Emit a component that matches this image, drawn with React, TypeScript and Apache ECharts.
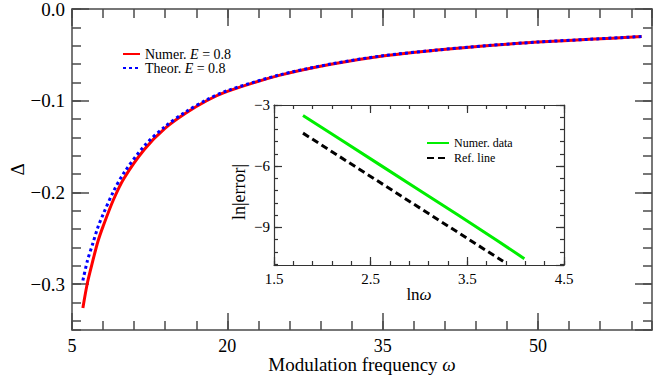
import { useEffect, useRef } from "react";
import * as echarts from "echarts";

const FONT = "Liberation Serif";

// Main panel data (modulation frequency ω vs Δ)
const omega = [6.05, 6.5, 7, 7.5, 8, 9, 10, 12, 14, 16, 18, 20, 25, 30, 35, 40, 45, 50, 55, 60];
const deltaNumer = [-0.326, -0.298, -0.275, -0.2535, -0.237, -0.208, -0.185, -0.153, -0.130, -0.1135, -0.100, -0.0898, -0.0724, -0.0602, -0.0512, -0.0451, -0.0401, -0.0361, -0.0331, -0.0301];
const deltaTheor = [-0.296, -0.274, -0.256, -0.238, -0.224, -0.199, -0.179, -0.149, -0.128, -0.112, -0.099, -0.089, -0.072, -0.060, -0.051, -0.045, -0.040, -0.036, -0.033, -0.030];

// Inset data (ln ω vs ln|error|)
const lnOmegaNum = [1.8, 2.2, 2.6, 3.0, 3.4, 3.8, 4.09];
const lnErrNum = [-3.51, -4.73, -5.95, -7.17, -8.39, -9.62, -10.54];
const lnOmegaRef = [1.8, 3.87];
const lnErrRef = [-4.38, -10.67];

// Axis ranges and tick steps (y axes are drawn as magnitudes on inverted axes)
const mainXRange = [5, 61];
const mainXMajorStep = 15;
const mainXMinorStep = 3;
const mainYRange = [0, 0.35]; // |Δ|, inverted
const mainYMajorStep = 0.1;
const mainYMinorStep = 0.02;
const insetXRange = [1.5, 4.5];
const insetXMajorStep = 1;
const insetXMinorStep = 0.2;
const insetYRange = [3, 10.85]; // |ln|error||, inverted
const insetYMajorStep = 3;
const insetYMinorStep = 0.6;

const MAIN_LINE = "#4a4a4a";
const INSET_LINE = "#333333";

function tickAxis(
  gridIndex: number,
  position: string,
  range: number[],
  step: number,
  length: number,
  color: string,
  width: number,
  showLine: boolean,
  inverse: boolean,
  extra: any = {}
) {
  return {
    type: "value",
    gridIndex,
    position,
    min: range[0],
    max: range[1],
    interval: step,
    inverse,
    nameMoveOverlap: false,
    axisLine: { show: showLine, onZero: false, lineStyle: { color, width } },
    axisTick: { show: true, inside: true, length, lineStyle: { color, width } },
    axisLabel: { show: false },
    splitLine: { show: false },
    minorTick: { show: false },
    ...extra,
  };
}

const onStep = (v: number, start: number, step: number) => {
  const k = (v - start) / step;
  return Math.abs(k - Math.round(k)) < 1e-6;
};

export default function App() {
  const ref = useRef<HTMLDivElement>(null);
  useEffect(() => {
    if (!ref.current) return;
    const chart = echarts.init(ref.current, null, { renderer: "svg" });
    const lbl = (size: number, margin: number, formatter: any) => ({
      show: true,
      fontFamily: FONT,
      fontSize: size,
      color: "#000",
      margin,
      showMaxLabel: false,
      formatter,
    });
    const italicRich = (size: number, lh?: number) => ({
      i: { fontFamily: FONT, fontStyle: "italic", fontSize: size, color: "#000", ...(lh ? { lineHeight: lh } : {}) },
    });

    const xAxis = [
      tickAxis(0, "bottom", mainXRange, mainXMajorStep, 17, MAIN_LINE, 1.5, true, false, {
        axisLabel: {
          ...lbl(18, 9, (v: number) => (onStep(v, mainXRange[0], mainXMajorStep) && v < mainXRange[1] ? String(v) : "")),
          lineHeight: 13,
        },
        name: "Modulation frequency {i|ω}",
        nameLocation: "middle",
        nameGap: 27,
        nameTextStyle: { fontFamily: FONT, fontSize: 19, color: "#000", lineHeight: 14, rich: italicRich(19, 14) },
      }),
      tickAxis(0, "bottom", mainXRange, mainXMinorStep, 9, MAIN_LINE, 1.5, false, false),
      tickAxis(0, "top", mainXRange, mainXMajorStep, 17, MAIN_LINE, 1.5, true, false),
      tickAxis(0, "top", mainXRange, mainXMinorStep, 9, MAIN_LINE, 1.5, false, false),
      tickAxis(1, "bottom", insetXRange, insetXMajorStep, 8, INSET_LINE, 1.2, true, false, {
        axisLabel: { ...lbl(15, 6, (v: number) => v.toFixed(1)), showMaxLabel: true },
        name: "ln{i|ω}",
        nameLocation: "middle",
        nameGap: 21,
        nameTextStyle: { fontFamily: FONT, fontSize: 17, color: "#000", rich: italicRich(17) },
      }),
      tickAxis(1, "bottom", insetXRange, insetXMinorStep, 4, INSET_LINE, 1.2, false, false),
      tickAxis(1, "top", insetXRange, insetXMajorStep, 8, INSET_LINE, 1.2, true, false),
      tickAxis(1, "top", insetXRange, insetXMinorStep, 4, INSET_LINE, 1.2, false, false),
    ];

    const yAxis = [
      tickAxis(0, "left", mainYRange, mainYMajorStep, 17, MAIN_LINE, 1.5, true, true, {
        axisLabel: lbl(19, 7, (v: number) =>
          onStep(v, 0, mainYMajorStep) && v < mainYRange[1] - 1e-9 ? (v === 0 ? "0.0" : "\u2212" + v.toFixed(1)) : ""
        ),
        name: "Δ",
        nameLocation: "middle",
        nameGap: 45,
        nameTextStyle: { fontFamily: FONT, fontSize: 19, color: "#000" },
      }),
      tickAxis(0, "left", mainYRange, mainYMinorStep, 9, MAIN_LINE, 1.5, false, true),
      tickAxis(0, "right", mainYRange, mainYMajorStep, 17, MAIN_LINE, 1.5, true, true),
      tickAxis(0, "right", mainYRange, mainYMinorStep, 9, MAIN_LINE, 1.5, false, true),
      tickAxis(1, "left", insetYRange, insetYMajorStep, 8, INSET_LINE, 1.2, true, true, {
        axisLabel: lbl(15, 4, (v: number) => (onStep(v, insetYRange[0], insetYMajorStep) && v < insetYRange[1] ? "\u2212" + String(v) : "")),
      }),
      tickAxis(1, "left", insetYRange, insetYMinorStep, 4, INSET_LINE, 1.2, false, true),
      tickAxis(1, "right", insetYRange, insetYMajorStep, 8, INSET_LINE, 1.2, true, true),
      tickAxis(1, "right", insetYRange, insetYMinorStep, 4, INSET_LINE, 1.2, false, true),
    ];

    // y values are plotted as magnitudes on the inverted axes
    const zipNeg = (a: number[], b: number[]) => a.map((v, i) => [v, -b[i]]);

    chart.setOption({
      animation: false,
      backgroundColor: "#fff",
      grid: [
        { left: 72, top: 9, right: 20, bottom: 51, containLabel: false, outerBoundsMode: "none" },
        {
          left: 274,
          top: 105,
          width: 290,
          height: 160,
          show: true,
          backgroundColor: "#fff",
          borderWidth: 0,
          containLabel: false,
          outerBoundsMode: "none",
        },
      ],
      graphic: [
        {
          type: "text",
          x: 239,
          y: 192,
          rotation: Math.PI / 2,
          style: {
            text: "ln|error|",
            fontFamily: FONT,
            fontSize: 18,
            fill: "#000",
            align: "center",
            verticalAlign: "middle",
          },
        },
      ],
      xAxis,
      yAxis,
      legend: [
        {
          data: ["Numer. E = 0.8", "Theor. E = 0.8"],
          orient: "vertical",
          left: 122,
          top: 47,
          padding: 0,
          itemWidth: 17,
          itemHeight: 10,
          itemGap: 0,
          itemStyle: { opacity: 0 },
          formatter: (n: string) => n.replace(" E ", " {i|E} "),
          textStyle: { fontFamily: FONT, fontSize: 14, color: "#000", rich: italicRich(14) },
        },
        {
          data: ["Numer. data", "Ref. line"],
          orient: "vertical",
          left: 426,
          top: 137,
          padding: 0,
          itemWidth: 22,
          itemHeight: 10,
          itemGap: 3,
          itemStyle: { opacity: 0 },
          textStyle: { fontFamily: FONT, fontSize: 12, color: "#000" },
        },
      ],
      series: [
        {
          name: "Numer. E = 0.8",
          type: "line",
          xAxisIndex: 0,
          yAxisIndex: 0,
          data: zipNeg(omega, deltaNumer),
          symbol: "none",
          smooth: 0.3,
          lineStyle: { color: "#ff0000", width: 3 },
          itemStyle: { color: "#ff0000" },
        },
        {
          name: "Theor. E = 0.8",
          type: "line",
          xAxisIndex: 0,
          yAxisIndex: 0,
          data: zipNeg(omega, deltaTheor),
          symbol: "none",
          smooth: 0.3,
          lineStyle: { color: "#0000ff", width: 3, type: [3, 3] },
          itemStyle: { color: "#0000ff" },
        },
        {
          name: "Numer. data",
          type: "line",
          xAxisIndex: 4,
          yAxisIndex: 4,
          data: zipNeg(lnOmegaNum, lnErrNum),
          symbol: "none",
          lineStyle: { color: "#00ee00", width: 3 },
          itemStyle: { color: "#00ee00" },
        },
        {
          name: "Ref. line",
          type: "line",
          xAxisIndex: 4,
          yAxisIndex: 4,
          data: zipNeg(lnOmegaRef, lnErrRef),
          symbol: "none",
          lineStyle: { color: "#000", width: 3, type: [7, 4] },
          itemStyle: { color: "#000" },
        },
      ],
    });
    return () => chart.dispose();
  }, []);
  return (
    <div
      ref={ref}
      style={{ position: "fixed", left: 0, top: 0, width: 672, height: 381, background: "#fff" }}
    />
  );
}
